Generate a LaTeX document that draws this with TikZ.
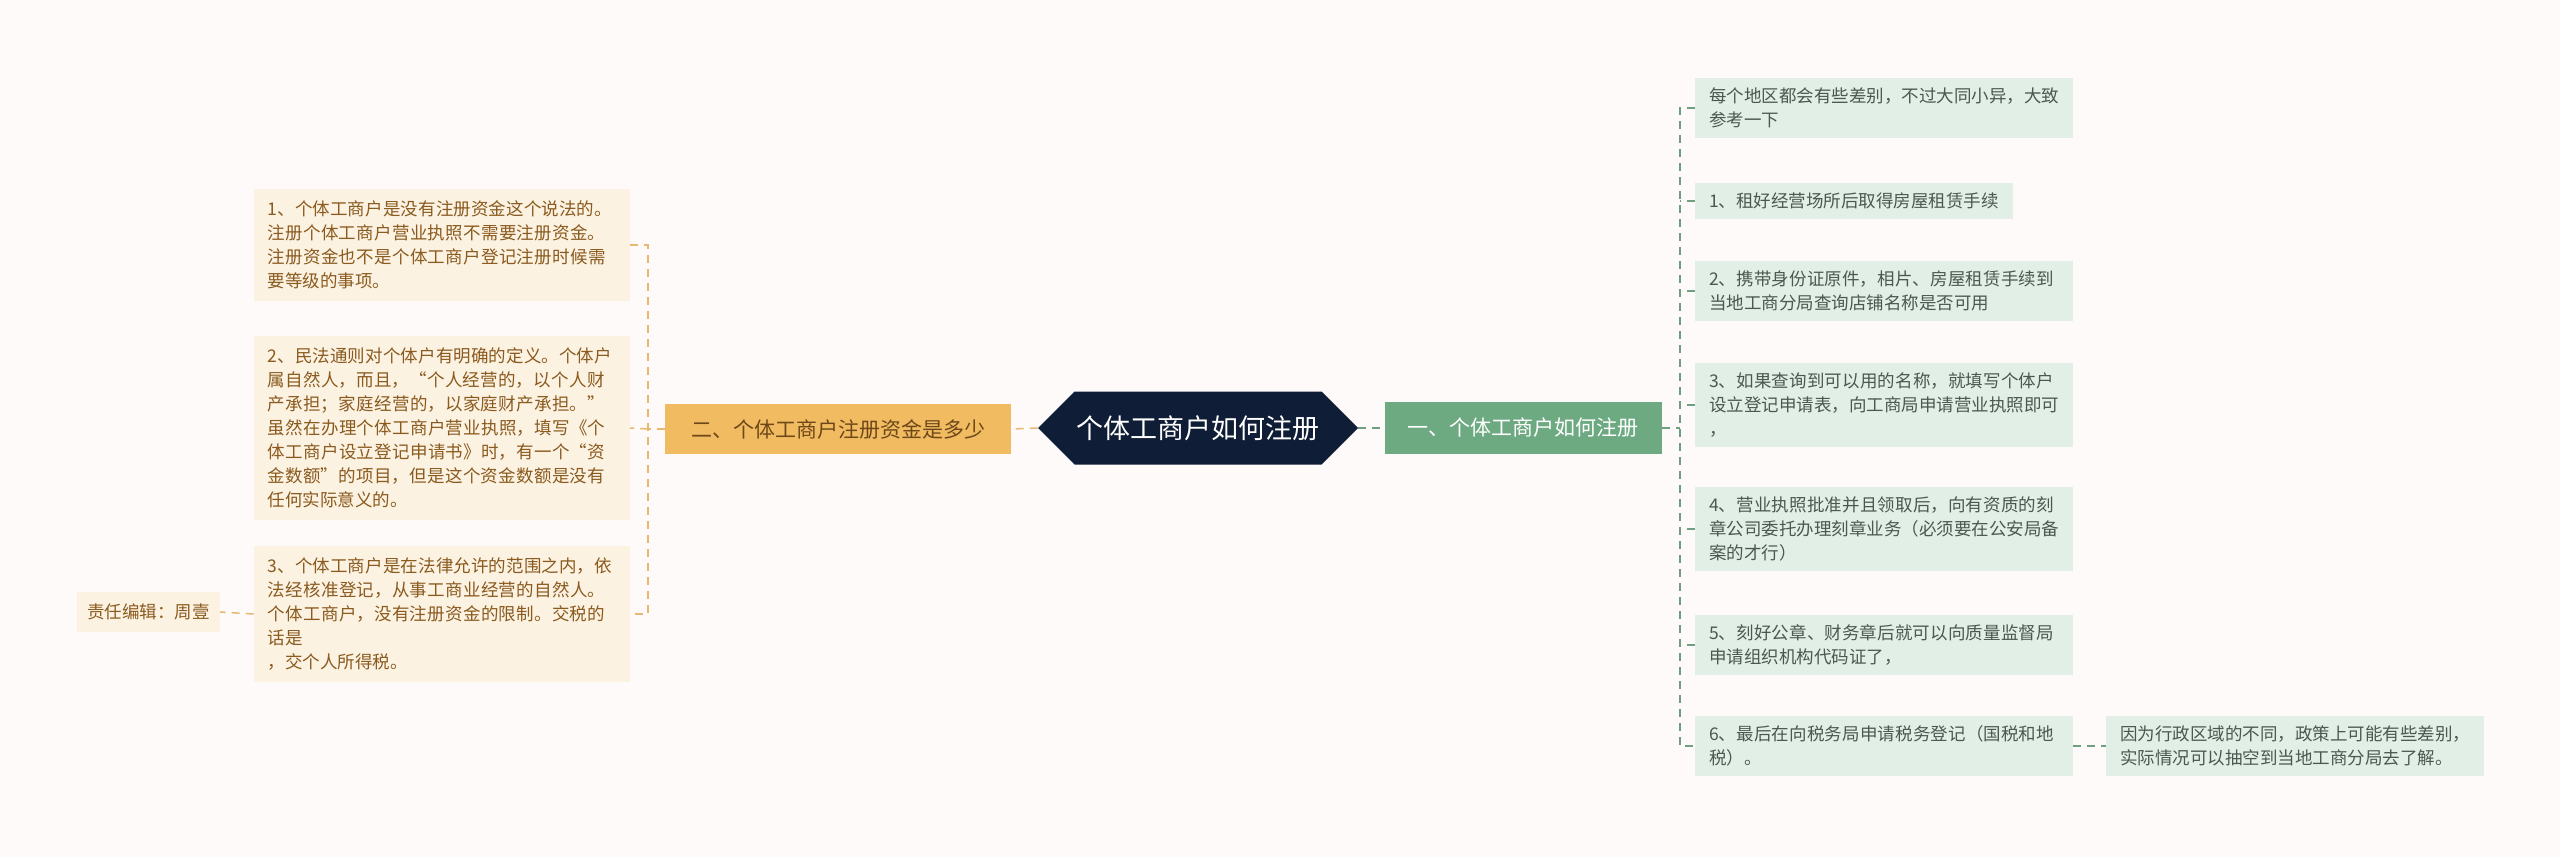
\documentclass[tikz,border=0pt]{standalone}
\usepackage{fontspec}
\setmainfont{Noto Sans CJK SC}
\XeTeXlinebreaklocale "zh"
\XeTeXlinebreakskip=0pt plus 1pt
\usetikzlibrary{shapes.symbols}
\definecolor{bg}{HTML}{FDFAF9}
\definecolor{navy}{HTML}{0F1E36}
\definecolor{org}{HTML}{F1BB62}
\definecolor{orgleaf}{HTML}{FCF2E2}
\definecolor{orgtext}{HTML}{8A5A1E}
\definecolor{orgline}{HTML}{E8B870}
\definecolor{grn}{HTML}{6DAA82}
\definecolor{grnleaf}{HTML}{E2EFE6}
\definecolor{grntext}{HTML}{4A5850}
\definecolor{grnline}{HTML}{6F9E80}
\tikzset{
  lleaf/.style={fill=orgleaf,text=orgtext,font=\fontsize{17.5}{24}\selectfont,align=left,inner xsep=14pt,inner ysep=12pt,anchor=east},
  rleaf/.style={fill=grnleaf,text=grntext,font=\fontsize{17.5}{24}\selectfont,align=left,inner xsep=14pt,inner ysep=10pt,anchor=west},
  oline/.style={draw=orgline,line width=1.5pt,dash pattern=on 8pt off 6pt},
  gline/.style={draw=grnline,line width=1.5pt,dash pattern=on 8pt off 6pt},
}
\begin{document}
\begin{tikzpicture}[x=1pt,y=-1pt]
\fill[bg] (0,0) rectangle (2560,857);
\useasboundingbox (0,0) rectangle (2560,857);
\node[signal,signal to=west and east,fill=navy,text=white,minimum width=300pt,minimum height=73pt,font=\fontsize{27}{30}\selectfont,inner xsep=2pt] (c) at (1198,428) {个体工商户如何注册};
\node[fill=org,text=orgtext!80!black,minimum width=346pt,minimum height=50pt,font=\fontsize{21}{24}\selectfont] (lb) at (838,429) {二、个体工商户注册资金是多少};
\node[fill=grn,text=white,minimum width=277pt,minimum height=52pt,font=\fontsize{21}{24}\selectfont] (rb) at (1523,428) {一、个体工商户如何注册};

\node[lleaf,text width=348pt] (l1) at (630,245) {1、个体工商户是没有注册资金这个说法的。注册个体工商户营业执照不需要注册资金。注册资金也不是个体工商户登记注册时候需要等级的事项。};
\node[lleaf,text width=348pt] (l2) at (630,428) {2、民法通则对个体户有明确的定义。个体户属自然人，而且，“个人经营的，以个人财产承担；家庭经营的，以家庭财产承担。”虽然在办理个体工商户营业执照，填写《个体工商户设立登记申请书》时，有一个“资金数额”的项目，但是这个资金数额是没有任何实际意义的。};
\node[lleaf,text width=348pt] (l3) at (630,614) {3、个体工商户是在法律允许的范围之内，依法经核准登记，从事工商业经营的自然人。个体工商户，没有注册资金的限制。交税的话是\newline，交个人所得税。};
\node[lleaf,inner xsep=10pt] (ed) at (220,612) {责任编辑：周壹};

\node[rleaf,text width=350pt] (r0) at (1695,108) {每个地区都会有些差别，不过大同小异，大致参考一下};
\node[rleaf] (r1) at (1695,201) {1、租好经营场所后取得房屋租赁手续};
\node[rleaf,text width=350pt] (r2) at (1695,291) {2、携带身份证原件，相片、房屋租赁手续到当地工商分局查询店铺名称是否可用};
\node[rleaf,text width=350pt] (r3) at (1695,405) {3、如果查询到可以用的名称，就填写个体户设立登记申请表，向工商局申请营业执照即可\newline ，};
\node[rleaf,text width=350pt] (r4) at (1695,529) {4、营业执照批准并且领取后，向有资质的刻章公司委托办理刻章业务（必须要在公安局备案的才行）};
\node[rleaf,text width=350pt] (r5) at (1695,645) {5、刻好公章、财务章后就可以向质量监督局申请组织机构代码证了，};
\node[rleaf,text width=350pt] (r6) at (1695,746) {6、最后在向税务局申请税务登记（国税和地税）。};
\node[rleaf,text width=350pt] (r7) at (2106,746) {因为行政区域的不同，政策上可能有些差别，实际情况可以抽空到当地工商分局去了解。};

\coordinate (lt) at (648,429);
\coordinate (rt) at (1680,428);
\draw[oline] (c.west) -- (lb.east);
\draw[gline] (c.east) -- (rb.west);
\draw[oline] (lb.west) -- (lt);
\draw[oline] (l1.east) -| (lt) |- (l3.east);
\draw[oline] (lt) -- (l2.east);
\draw[oline] (l3.west) -- (ed.east);
\draw[gline] (rb.east) -- (rt);
\draw[gline] (r0.west) -| (rt) |- (r6.west);
\foreach \n in {r1,r2,r3,r4,r5} \draw[gline] (\n.west) -- (rt |- \n.west);
\draw[gline] (r6.east) -- (r7.west);
\end{tikzpicture}
\end{document}
